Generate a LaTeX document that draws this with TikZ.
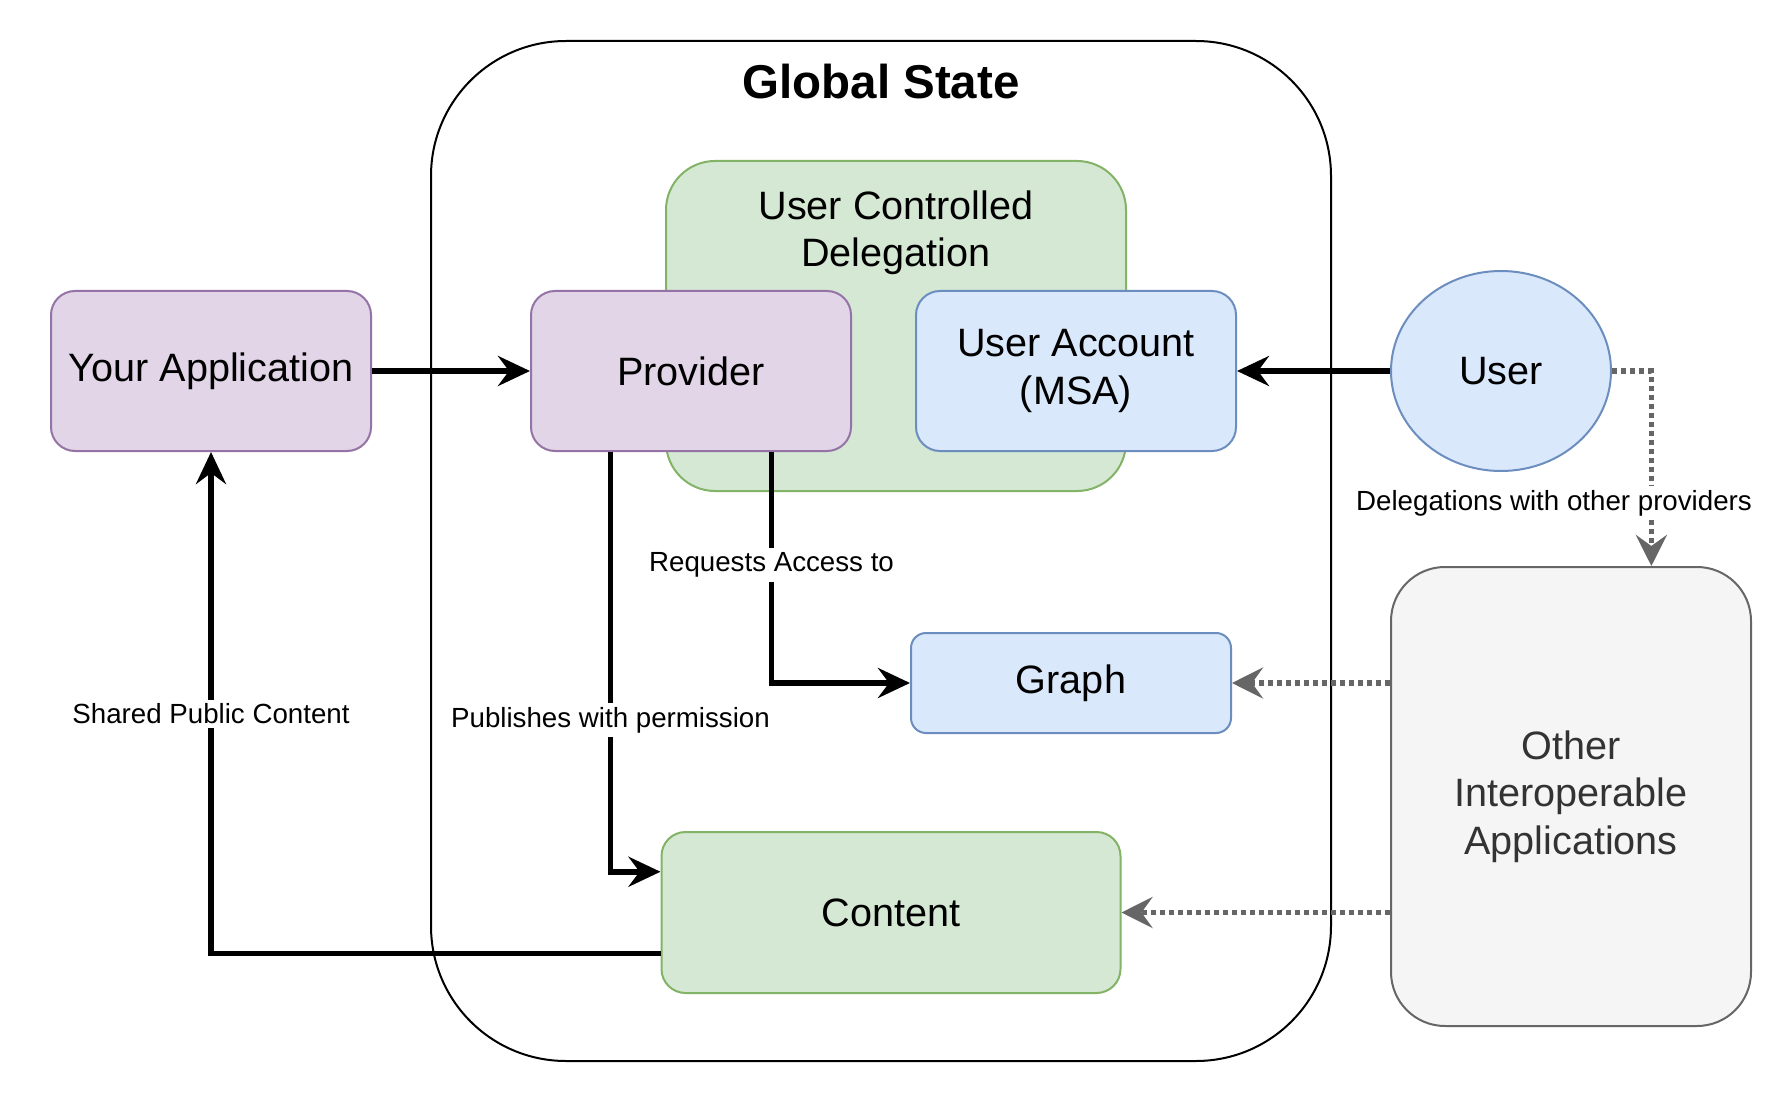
\documentclass[tikz,border=0pt]{standalone}
\usepackage{fontspec}
\setmainfont{Liberation Sans}
\usetikzlibrary{arrows.meta,calc,shapes.geometric}
\definecolor{purpF}{HTML}{E1D5E7}
\definecolor{purpD}{HTML}{9673A6}
\definecolor{blueF}{HTML}{DAE8FC}
\definecolor{blueD}{HTML}{6C8EBF}
\definecolor{greenF}{HTML}{D5E8D4}
\definecolor{greenD}{HTML}{82B366}
\definecolor{grayF}{HTML}{F5F5F5}
\definecolor{grayD}{HTML}{666666}
\definecolor{grayT}{HTML}{333333}
\begin{document}
\begin{tikzpicture}[x=1pt,y=-1pt,
  boxtext/.style={font=\fontsize{39.6}{47.5}\selectfont, align=center},
  box/.style={boxtext, draw, line width=2pt, rounded corners=24pt, minimum width=320pt, minimum height=160pt, inner sep=0pt},
  purple/.style={box, fill=purpF, draw=purpD},
  bluebox/.style={box, fill=blueF, draw=blueD},
  greenbox/.style={box, fill=greenF, draw=greenD},
  lbl/.style={font=\fontsize{27.7}{33}\selectfont, inner xsep=3pt, inner ysep=4pt},
  conn/.style={draw=black, line width=5.5pt},
  arr/.style={conn, -{Stealth[length=32pt, width=30pt, inset=11pt]}},
  dotconn/.style={draw=grayD, line width=5.5pt, dash pattern=on 5pt off 4pt},
  dotarr/.style={dotconn, -{Stealth[length=31pt, width=31pt, inset=11pt]}}
]
\useasboundingbox (0,0) rectangle (1792,1102);
\fill[white] (0,0) rectangle (1792,1102);

% Global state container
\node[draw=black, line width=2pt, rounded corners=135pt, minimum width=900pt, minimum height=1020pt, inner sep=0pt] (gs) at (881,551) {};
\node[font=\fontsize{47.5}{57}\selectfont\bfseries] (gstitle) at (881,82) {Global State};

% User controlled delegation
\node[greenbox, rounded corners=49pt, minimum width=460pt, minimum height=330pt] (ucd) at (896,326) {};
\node[boxtext] (ucdtxt) at (896,233) {User Controlled\\Delegation};

% Boxes
\node[purple] (app) at (211,371) {Your Application};
\node[purple] (prov) at (691,371) {Provider};
\node[bluebox] (acct) at (1076,371) {User Account\\(MSA)};
\node[boxtext, ellipse, draw=blueD, fill=blueF, line width=2pt, minimum width=220pt, minimum height=200pt, inner sep=0pt] (user) at (1501,371) {User};
\node[box, fill=grayF, draw=grayD, text=grayT, rounded corners=54pt, minimum width=360pt, minimum height=459pt] (other) at (1571,796.5) {Other\\Interoperable\\Applications};
\node[bluebox, rounded corners=15pt, minimum height=100pt] (graph) at (1071,683) {Graph};
\node[greenbox, minimum width=459pt, minimum height=161pt] (content) at (891,912.5) {Content};

% Connector end points
\coordinate (provR) at ($(prov.south west)!0.75!(prov.south east)$);
\coordinate (provL) at ($(prov.south west)!0.25!(prov.south east)$);
\coordinate (contTop) at ($(content.north west)!0.25!(content.south west)$);
\coordinate (contBot) at ($(content.north west)!0.75!(content.south west)$);
\coordinate (otherTop) at ($(other.north west)!0.722!(other.north east)$);

% Connector labels
\node[lbl] (reqlbl) at (provR |- 0,565) {Requests Access to};
\node[lbl] (publbl) at (provL |- 0,720) {Publishes with permission};
\node[lbl] (shrlbl) at (app.south |- 0,714) {Shared Public Content};
\node[lbl] (dlbl) at (1554,503) {Delegations with other providers};

% Solid connectors
\draw[arr] (app.east) -- (prov.west);
\draw[arr] (user.west) -- (acct.east);
\draw[conn] (provR) -- (provR |- reqlbl.north);
\draw[arr] (provR |- reqlbl.south) |- (graph.west);
\draw[conn] (provL) -- (provL |- publbl.north);
\draw[arr] (provL |- publbl.south) |- (contTop);
\draw[conn] (contBot) -| (shrlbl.south);
\draw[arr] (shrlbl.north) -- (app.south);

% Dotted connectors
\draw[dotconn] (user.east) -| (otherTop |- dlbl.north);
\draw[dotarr] (otherTop |- dlbl.south) -- (otherTop);
\draw[dotarr] (other.west |- graph.east) -- (graph.east);
\draw[dotarr] (other.west |- content.east) -- (content.east);
\end{tikzpicture}
\end{document}
